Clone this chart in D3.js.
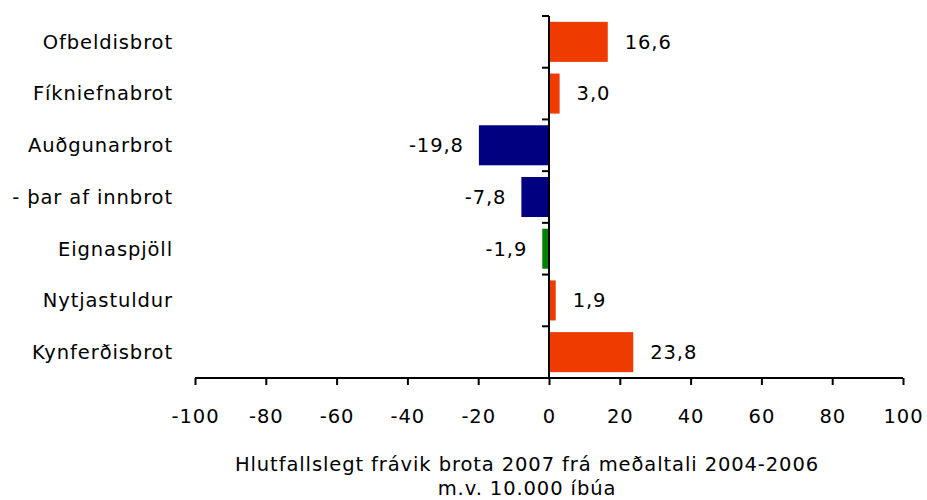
<!DOCTYPE html>
<html>
<head>
<meta charset="utf-8">
<script src="https://cdn.jsdelivr.net/npm/d3@7"></script>
<style>
  body { margin: 0; background: #fff; }
  text { font-family: "DejaVu Sans", Verdana, sans-serif; fill: #000; letter-spacing: 0.9px; }
</style>
</head>
<body>
<svg width="927" height="500"></svg>
<script>
// data
var categories = ["Ofbeldisbrot", "Fíkniefnabrot", "Auðgunarbrot", "- þar af innbrot", "Eignaspjöll", "Nytjastuldur", "Kynferðisbrot"];
var values = [16.6, 3.0, -19.8, -7.8, -1.9, 1.9, 23.8];
var barColors = ["#F03B00", "#F03B00", "#000080", "#000080", "#008000", "#F03B00", "#F03B00"];
var xTicks = [-100, -80, -60, -40, -20, 0, 20, 40, 60, 80, 100];
var titleLines = ["Hlutfallslegt frávik brota 2007 frá meðaltali 2004-2006", "m.v. 10.000 íbúa"];

var svg = d3.select("svg");
var fontSize = "19.5px";

var x = d3.scaleLinear().domain([-100, 100]).range([195, 903]);
var y = d3.scaleBand().domain(categories).range([16, 378]).paddingInner(0.226).paddingOuter(0.113);

var fmt = function(v) { return v.toFixed(1).replace(".", ","); };

var data = categories.map(function(c, i) { return {key: c, value: values[i], color: barColors[i]}; });

// bars
svg.selectAll("rect.bar")
  .data(data)
  .enter().append("rect")
  .attr("class", "bar")
  .attr("x", function(d) { return x(Math.min(0, d.value)); })
  .attr("y", function(d) { return y(d.key); })
  .attr("width", function(d) { return Math.abs(x(d.value) - x(0)); })
  .attr("height", y.bandwidth())
  .attr("fill", function(d) { return d.color; });

// value labels
svg.selectAll("text.label")
  .data(data)
  .enter().append("text")
  .attr("class", "label")
  .attr("x", function(d) { return d.value >= 0 ? x(d.value) + 17 : x(d.value) - 15; })
  .attr("y", function(d) { return y(d.key) + y.bandwidth() / 2; })
  .attr("dy", "0.35em")
  .attr("font-size", fontSize)
  .attr("text-anchor", function(d) { return d.value >= 0 ? "start" : "end"; })
  .text(function(d) { return fmt(d.value); });

// category labels
svg.selectAll("text.category")
  .data(data)
  .enter().append("text")
  .attr("class", "category")
  .attr("x", 173)
  .attr("y", function(d) { return y(d.key) + y.bandwidth() / 2; })
  .attr("dy", "0.35em")
  .attr("font-size", fontSize)
  .attr("text-anchor", "end")
  .text(function(d) { return d.key; });

// y axis: line at zero with ticks at band boundaries
var bounds = d3.range(categories.length + 1).map(function(i) { return 16 + i * (362 / categories.length); });
svg.append("line")
  .attr("x1", x(0)).attr("x2", x(0))
  .attr("y1", 16).attr("y2", 378)
  .attr("stroke", "#000").attr("stroke-width", 2);
svg.selectAll("line.ytick")
  .data(bounds.slice(0, -1))
  .enter().append("line")
  .attr("class", "ytick")
  .attr("x1", x(0) - 7).attr("x2", x(0))
  .attr("y1", function(d) { return d; }).attr("y2", function(d) { return d; })
  .attr("stroke", "#000").attr("stroke-width", 2);

// x axis
var xAxis = svg.append("g")
  .attr("transform", "translate(0,378)")
  .call(d3.axisBottom(x).tickValues(xTicks).tickSize(7).tickPadding(24).tickFormat(d3.format("d")));
xAxis.select(".domain").attr("stroke-width", 2).attr("d", "M" + x(-100) + ",0H" + x(100));
xAxis.selectAll(".tick line").attr("stroke-width", 2);
xAxis.selectAll(".tick text")
  .style("font-family", "'DejaVu Sans', Verdana, sans-serif")
  .style("font-size", fontSize)
  .text(function(d) { return String(d).replace("−", "-"); });

// title
svg.selectAll("text.title")
  .data(titleLines)
  .enter().append("text")
  .attr("class", "title")
  .attr("x", 527)
  .attr("y", function(d, i) { return 471 + i * 24; })
  .attr("font-size", fontSize)
  .attr("text-anchor", "middle")
  .text(function(d) { return d; });
</script>
</body>
</html>
